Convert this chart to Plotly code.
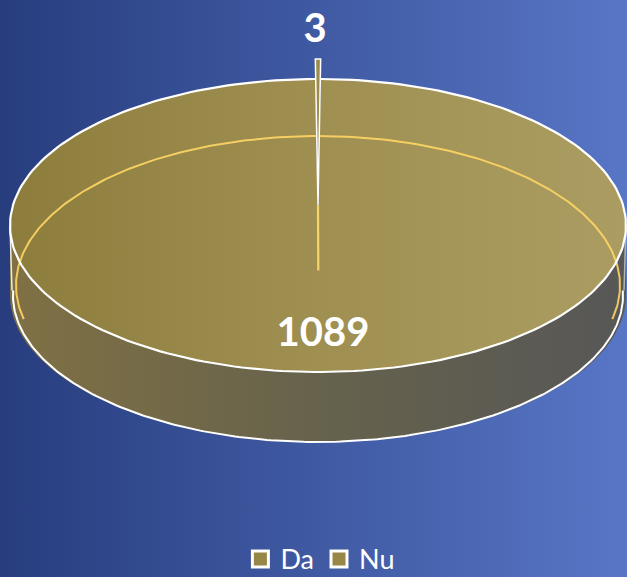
import numpy as np
import plotly.graph_objects as go

# ---- data ----
categories = ["Da", "Nu"]
values = [3, 1089]

# ---- geometry / style (not data) ----
W, H = 627, 577
CX, CY = 318, 225.5      # centre of top face
A, B = 308, 146.5        # semi-axes of top face
DEPTH = 70               # thickness of the pie
EXPLODE = 20             # explosion of the first slice
BG = [[0, "#273d7e"], [1, "#5876c6"]]
TOP = [[0, "#8d7d3d"], [0.5, "#9f8f51"], [1, "#ab9d62"]]
SIDE = [[0, "#807144"], [0.5, "#66624c"], [1, "#575757"]]
FONT = "Lato"

total = float(sum(values))
spans = [v / total * 360.0 for v in values]
start0 = -spans[0] / 2.0          # first slice centred at 12 o'clock
bounds = []
s = start0
for sp in spans:
    bounds.append((s, s + sp))
    s += sp


def arc(t0, t1, cx, cy, a=A, b=B, n=240):
    t = np.radians(np.linspace(t0, t1, n))
    return cx + a * np.sin(t), cy - b * np.cos(t)


fig = go.Figure()

# background
fig.add_trace(go.Scatter(x=[0, W, W, 0, 0], y=[0, 0, H, H, 0], mode="lines",
                         line=dict(width=0), fill="toself",
                         fillgradient=dict(type="horizontal", colorscale=BG),
                         hoverinfo="skip", showlegend=False))

# ---- big slice (Nu) ----
t0, t1 = bounds[1]
# side wall (front half)
xt, yt = arc(90, 270, CX, CY)
xb, yb = arc(270, 90, CX, CY + DEPTH)
fig.add_trace(go.Scatter(x=np.r_[xt, xb, xt[:1]], y=np.r_[yt, yb, yt[:1]],
                         mode="lines", line=dict(width=0), fill="toself",
                         fillgradient=dict(type="horizontal", colorscale=SIDE),
                         hoverinfo="skip", showlegend=False))
# top face
xa, ya = arc(t0, t1, CX, CY)
fig.add_trace(go.Scatter(x=np.r_[CX, xa, CX], y=np.r_[CY, ya, CY],
                         mode="lines", line=dict(width=0), fill="toself",
                         fillgradient=dict(type="horizontal", colorscale=TOP),
                         hoverinfo="skip", showlegend=False))
# hidden bottom rim seen through the top
xy, yy = arc(-103, 103, CX, CY + 60, a=A - 6, b=B + 3)
fig.add_trace(go.Scatter(x=xy, y=yy, mode="lines",
                         line=dict(color="rgba(255,214,100,0.9)", width=2),
                         hoverinfo="skip", showlegend=False))
# white outlines
xo, yo = arc(t0, t1, CX, CY)
fig.add_trace(go.Scatter(x=xo, y=yo, mode="lines",
                         line=dict(color="white", width=2.2),
                         hoverinfo="skip", showlegend=False))
xf, yf = arc(88, 272, CX, CY + DEPTH, a=A - 3)
fig.add_trace(go.Scatter(x=xf, y=yf, mode="lines",
                         line=dict(color="white", width=2),
                         hoverinfo="skip", showlegend=False))
for sgn, col in [(-1, "rgba(255,255,255,0.85)"), (1, "rgba(255,255,255,0.55)")]:
    fig.add_trace(go.Scatter(x=[CX + sgn * A, CX + sgn * (A - 2)],
                             y=[CY, CY + DEPTH - 5], mode="lines",
                             line=dict(color=col, width=1.5),
                             hoverinfo="skip", showlegend=False))

# ---- small exploded slice (Da) ----
d0, d1 = bounds[0]
ey = CY - EXPLODE
# inner radial wall (yellow)
fig.add_trace(go.Scatter(x=[CX, CX + 0.3], y=[ey, ey + DEPTH - 5], mode="lines",
                         line=dict(color="#f6d66c", width=2.2),
                         hoverinfo="skip", showlegend=False))
xs, ys = arc(d0, d1, CX, ey, n=10)
fig.add_trace(go.Scatter(x=np.r_[CX, xs, CX], y=np.r_[ey, ys, ey],
                         mode="lines", line=dict(color="white", width=1.5),
                         fill="toself", fillcolor="#9c8c4e",
                         hoverinfo="skip", showlegend=False))

# ---- data labels ----
lx = [CX - 3, CX + 0.73 * A * np.sin(np.radians((t0 + t1) / 2)) + 5]
ly = [ey - B - 27, CY - 0.73 * B * np.cos(np.radians((t0 + t1) / 2)) + 4]
fig.add_trace(go.Scatter(x=lx, y=ly, mode="text",
                         text=[f"<b>{v}</b>" for v in values],
                         textfont=dict(family=FONT, size=40, color="white"),
                         hoverinfo="skip", showlegend=False))

# ---- legend entries ----
for cat in categories:
    fig.add_trace(go.Scatter(x=[None], y=[None], mode="markers", name=cat,
                             marker=dict(symbol="square", size=17, color="#978747",
                                         line=dict(color="white", width=3))))

fig.update_layout(
    width=W, height=H,
    margin=dict(l=0, r=0, t=0, b=0, autoexpand=False),
    paper_bgcolor="#3f58a2", plot_bgcolor="rgba(0,0,0,0)",
    xaxis=dict(range=[0, W], visible=False, fixedrange=True),
    yaxis=dict(range=[H, 0], visible=False, fixedrange=True),
    showlegend=True,
    legend=dict(orientation="h", x=0.511, xanchor="center", y=0.073, yanchor="top",
                font=dict(family=FONT, size=27, color="white"),
                bgcolor="rgba(0,0,0,0)", itemclick=False, itemdoubleclick=False),
)

fig.write_html("out.html", config={"displayModeBar": False},
               post_script="document.body.style.margin='0';"
                           "document.body.style.overflow='hidden';")
